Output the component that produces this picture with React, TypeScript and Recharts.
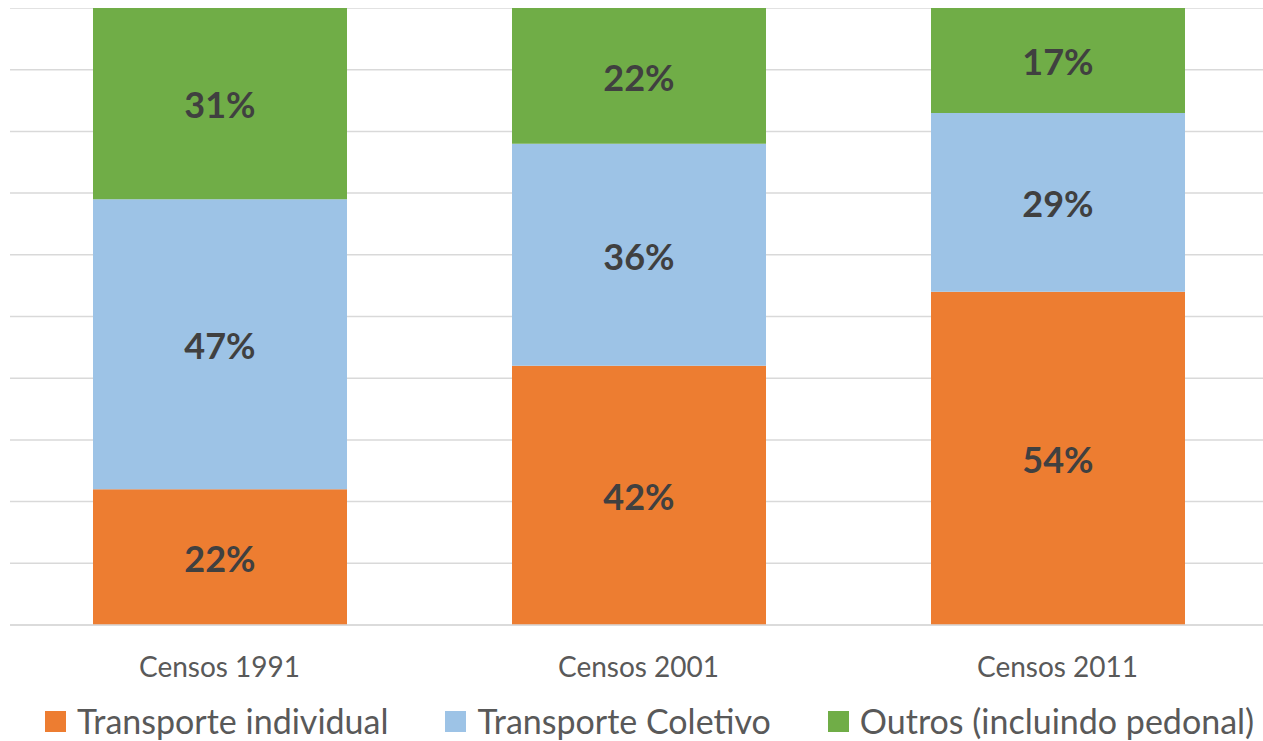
import React from 'react';
import { BarChart, Bar, XAxis, YAxis, CartesianGrid, LabelList, Legend } from 'recharts';

const categories = ['Censos 1991', 'Censos 2001', 'Censos 2011'];
const individual = [22, 42, 54];
const coletivo = [47, 36, 29];
const outros = [31, 22, 17];
const yTicks = [0, 10, 20, 30, 40, 50, 60, 70, 80, 90, 100];

const seriesNames = ['Transporte individual', 'Transporte Coletivo', 'Outros (incluindo pedonal)'];
const colors = ['#ED7D31', '#9DC3E6', '#70AD47'];

const data = categories.map((c, i) => ({
  name: c,
  individual: individual[i],
  coletivo: coletivo[i],
  outros: outros[i],
}));

const FONT = 'Lato, "Open Sans", sans-serif';

const Tick = (props: any) => {
  const { x, y, payload } = props;
  return (
    <text x={x} y={y + 41} textAnchor="middle" dominantBaseline="central" fill="#595959" fontSize={28} fontFamily={FONT}>
      {payload.value}
    </text>
  );
};

const LegendContent = (props: any) => {
  const payload = [...(props.payload || [])].sort(
    (a: any, b: any) => seriesNames.indexOf(a.value) - seriesNames.indexOf(b.value)
  );
  return (
    <div style={{ display: 'flex', justifyContent: 'flex-start', alignItems: 'center', fontFamily: FONT, paddingLeft: 37 }}>
      {payload.map((p: any, i: number) => (
        <div key={i} style={{ display: 'flex', alignItems: 'center', marginRight: i < payload.length - 1 ? 57 : 0 }}>
          <span style={{ display: 'inline-block', width: 21, height: 21, background: p.color, marginRight: 11 }} />
          <span style={{ fontSize: 34, color: '#595959', lineHeight: '40px', whiteSpace: 'nowrap' }}>{p.value}</span>
        </div>
      ))}
    </div>
  );
};

const labelStyle = { fill: '#404040', fontWeight: 700, fontSize: 36, fontFamily: FONT };

export default function App() {
  return (
    <div style={{ position: 'fixed', left: 0, top: 0, width: 1263, height: 741, overflow: 'hidden', background: '#fff' }}>
      <div style={{ position: 'absolute', left: 8, top: 8 }}>
        <BarChart
          width={1261}
          height={733}
          data={data}
          margin={{ top: 0, right: 2, left: 2, bottom: 56 }}
          barSize={254}
        >
          <CartesianGrid vertical={false} stroke="#d9d9d9" strokeWidth={1.5} />
          <XAxis
            dataKey="name"
            height={60}
            tickLine={false}
            tickSize={0}
            tickMargin={0}
            axisLine={{ stroke: '#d9d9d9', strokeWidth: 1.5 }}
            tick={<Tick />}
          />
          <YAxis hide domain={[0, 100]} ticks={yTicks} />
          <Legend
            verticalAlign="middle"
            layout="horizontal"
            content={<LegendContent />}
            wrapperStyle={{ top: 693, left: 0, width: 1261, height: 40 }}
          />
          <Bar dataKey="individual" name={seriesNames[0]} stackId="a" fill={colors[0]} isAnimationActive={false}>
            <LabelList dataKey="individual" position="center" dy={2} formatter={(v: any) => `${v}%`} style={labelStyle} />
          </Bar>
          <Bar dataKey="coletivo" name={seriesNames[1]} stackId="a" fill={colors[1]} isAnimationActive={false}>
            <LabelList dataKey="coletivo" position="center" dy={2} formatter={(v: any) => `${v}%`} style={labelStyle} />
          </Bar>
          <Bar dataKey="outros" name={seriesNames[2]} stackId="a" fill={colors[2]} isAnimationActive={false}>
            <LabelList dataKey="outros" position="center" dy={2} formatter={(v: any) => `${v}%`} style={labelStyle} />
          </Bar>
        </BarChart>
      </div>
    </div>
  );
}
